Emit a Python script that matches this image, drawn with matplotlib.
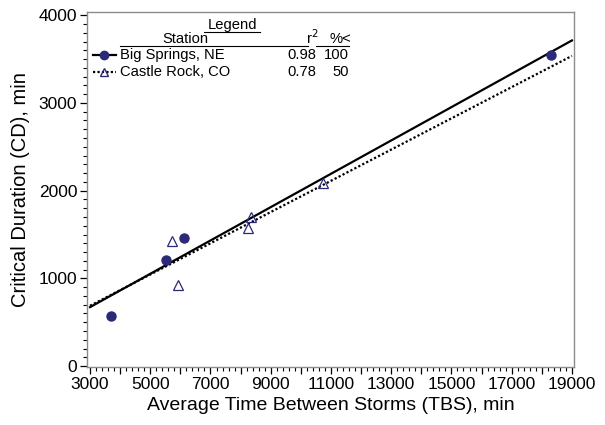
import numpy as np
import matplotlib
matplotlib.use('Agg')
import matplotlib.pyplot as plt
from matplotlib.ticker import MultipleLocator, FuncFormatter
from matplotlib.lines import Line2D

plt.rcParams['font.family'] = ['Liberation Sans', 'DejaVu Sans']

# Big Springs, NE
bs_tbs = [3690, 5510, 6110, 18310]
bs_cd = [570, 1215, 1460, 3545]
bs_fit = (102, 0.190)     # intercept, slope

# Castle Rock, CO
cr_tbs = [5710, 5930, 8240, 8360, 10740]
cr_cd = [1425, 930, 1570, 1695, 2085]
cr_fit = (154, 0.178)

stations = ['Big Springs, NE', 'Castle Rock, CO']
r2 = ['0.98', '0.78']
pct = ['100', '50']

navy = '#2b2a78'
gray = '#8c8c8c'

fig = plt.figure(figsize=(6.05, 4.25), dpi=100)
ax = fig.add_axes([0.1438, 0.1365, 0.805, 0.835])

x_line = np.array([3000, 19000])
ax.plot(x_line, bs_fit[0] + bs_fit[1] * x_line, color='black', lw=1.6, zorder=2)
ax.plot(x_line, cr_fit[0] + cr_fit[1] * x_line, color='black', lw=1.6,
        linestyle=(0, (1, 1)), zorder=2)
ax.plot(bs_tbs, bs_cd, 'o', color=navy, ms=6.5, zorder=3)
ax.plot(cr_tbs, cr_cd, '^', mfc='none', mec=navy, mew=0.9, ms=6.5, zorder=3)

ax.set_xlim(2900, 19070)
ax.set_ylim(-10, 4035)
ax.xaxis.set_major_locator(MultipleLocator(1000))
ax.xaxis.set_major_formatter(FuncFormatter(
    lambda v, p: '%d' % v if int(round(v)) % 2000 == 1000 else ''))
ax.xaxis.set_minor_locator(MultipleLocator(200))
ax.yaxis.set_major_locator(MultipleLocator(1000))
ax.yaxis.set_minor_locator(MultipleLocator(100))

for s in ax.spines.values():
    s.set_color(gray)
    s.set_linewidth(1.0)
ax.tick_params(which='major', length=5, width=0.9, color='black', labelsize=12.5, pad=2)
ax.tick_params(which='minor', length=3, width=0.8, color='black')
ax.set_xlabel('Average Time Between Storms (TBS), min', fontsize=14, labelpad=4)
ax.set_ylabel('Critical Duration (CD), min', fontsize=14.5, labelpad=6)

# legend block
tf = ax.transAxes
def px(x, y):
    return ((x - 87) / 487, (367 - y) / 355)

fs = 10.6
ax.text(*px(232, 25), 'Legend', transform=tf, ha='center', va='center', fontsize=fs)
ax.plot([px(204, 0)[0], px(260, 0)[0]], [px(0, 32)[1]] * 2, transform=tf, color='black', lw=0.8)
ax.text(*px(185, 39), 'Station', transform=tf, ha='center', va='center', fontsize=fs)
ax.text(*px(312, 38), 'r$^2$', transform=tf, ha='center', va='center', fontsize=fs)
ax.text(*px(340, 39), '%<', transform=tf, ha='center', va='center', fontsize=fs)
ax.plot([px(120, 0)[0], px(308, 0)[0]], [px(0, 46)[1]] * 2, transform=tf, color='black', lw=0.8)
ax.plot([px(316, 0)[0], px(349, 0)[0]], [px(0, 46)[1]] * 2, transform=tf, color='black', lw=0.8)

styles = [dict(ls='-', marker='o', mfc=navy, mec=navy, ms=6),
          dict(ls=(0, (1, 1)), marker='^', mfc='none', mec=navy, ms=5.5)]
for i, name in enumerate(stations):
    y = 55 + 17 * i
    x0, yy = px(93, y)
    x1, _ = px(116, y)
    ax.add_line(Line2D([x0, x1], [yy, yy], transform=tf, color='black', lw=1.6,
                       linestyle=styles[i]['ls']))
    ax.plot([px(104, y)[0]], [yy], transform=tf, marker=styles[i]['marker'],
            mfc=styles[i]['mfc'], mec=styles[i]['mec'], ms=styles[i]['ms'], ls='none')
    ax.text(px(120, y)[0], yy, name, transform=tf, ha='left', va='center', fontsize=fs)
    ax.text(px(316, y)[0], yy, r2[i], transform=tf, ha='right', va='center', fontsize=fs)
    ax.text(px(349, y)[0], yy, pct[i], transform=tf, ha='right', va='center', fontsize=fs)

fig.savefig('out.png', dpi=100)
